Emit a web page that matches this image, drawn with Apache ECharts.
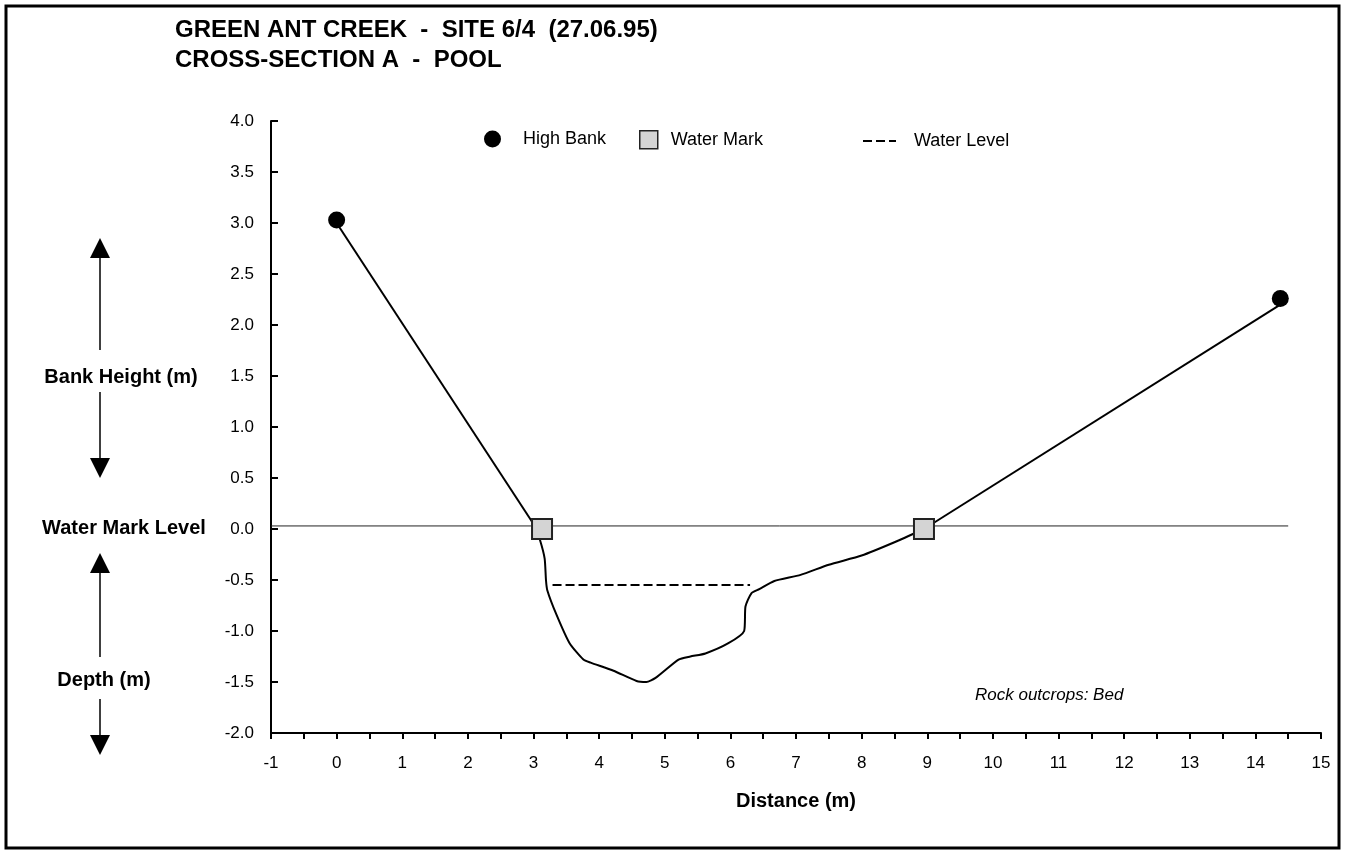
<!DOCTYPE html>
<html>
<head>
<meta charset="utf-8">
<script src="https://cdn.jsdelivr.net/npm/echarts@6/dist/echarts.min.js"></script>
<style>
html,body{margin:0;padding:0;background:#fff;}
#chart{width:1348px;height:856px;}
</style>
</head>
<body>
<div id="chart"></div>
<script>
// ---- data ----
const titleLines = ['GREEN ANT CREEK  -  SITE 6/4  (27.06.95)', 'CROSS-SECTION A  -  POOL'];
const highBank = [[0, 3.03], [14.38, 2.26]];
const waterMark = [[3.13, 0], [8.95, 0]];
const waterLevel = [[3.29, -0.55], [6.30, -0.55]];
const markLevelLine = [[-1, 0.03], [14.5, 0.03]];
const leftBank = [[0, 3.0], [3.02, 0.03]];
const bed = [[3.02, 0.03], [3.10, -0.11], [3.17, -0.29], [3.19, -0.50], [3.21, -0.60], [3.35, -0.84],
  [3.55, -1.12], [3.76, -1.28], [3.87, -1.31], [4.22, -1.39], [4.57, -1.49], [4.72, -1.50],
  [4.86, -1.46], [5.21, -1.28], [5.39, -1.25], [5.62, -1.22], [5.97, -1.12], [6.21, -1.00],
  [6.23, -0.76], [6.32, -0.63], [6.44, -0.59], [6.67, -0.51], [7.07, -0.45], [7.5, -0.35],
  [8.0, -0.26], [8.5, -0.13], [8.95, 0]];
const rightBank = [[8.95, 0], [14.38, 2.2]];
const noteText = 'Rock outcrops: Bed';
const sideLabels = ['Bank Height (m)', 'Water Mark Level', 'Depth (m)'];
const xName = 'Distance (m)';

const FONT = '"Liberation Sans", Arial, Helvetica, sans-serif';
const chart = echarts.init(document.getElementById('chart'));

function arrow(x, y1, y2, dir) {
  const els = [];
  const hw = 10, hh = 20;
  if (dir < 0) {
    els.push({type: 'polygon', shape: {points: [[x, y1], [x - hw, y1 + hh], [x + hw, y1 + hh]]}, style: {fill: '#000'}});
    els.push({type: 'line', shape: {x1: x, y1: y1 + hh, x2: x, y2: y2}, style: {stroke: '#000', lineWidth: 1.5}});
  } else {
    els.push({type: 'line', shape: {x1: x, y1: y1, x2: x, y2: y2 - hh}, style: {stroke: '#000', lineWidth: 1.5}});
    els.push({type: 'polygon', shape: {points: [[x, y2], [x - hw, y2 - hh], [x + hw, y2 - hh]]}, style: {fill: '#000'}});
  }
  return els;
}
function sideText(txt, cx, cy) {
  return {type: 'text', x: cx, y: cy, style: {text: txt, font: 'bold 20px ' + FONT, fill: '#000', align: 'center', verticalAlign: 'middle'}};
}

const graphics = [
  {type: 'rect', shape: {x: 6, y: 6, width: 1333, height: 842}, style: {fill: 'none', stroke: '#000', lineWidth: 3}, z: 100},
  ...arrow(100, 238, 350, -1),
  sideText(sideLabels[0], 121, 377),
  ...arrow(100, 392, 478, 1),
  sideText(sideLabels[1], 124, 528),
  ...arrow(100, 553, 657, -1),
  sideText(sideLabels[2], 104, 680),
  ...arrow(100, 699, 755, 1),
  {type: 'text', x: 975, y: 695, style: {text: noteText, font: 'italic 17px ' + FONT, fill: '#000', verticalAlign: 'middle'}}
];

const legendText = {fontFamily: FONT, fontSize: 18, color: '#000'};

const option = {
  animation: false,
  backgroundColor: '#fff',
  title: {
    text: titleLines.join('\n'),
    left: 175, top: 15, padding: 0,
    textStyle: {fontFamily: FONT, fontSize: 24, fontWeight: 'bold', color: '#000', lineHeight: 30}
  },
  legend: [
    {data: [{name: 'High Bank', icon: 'circle', itemStyle: {color: '#000', opacity: 1}}],
     left: 484, top: 130, padding: 0, itemWidth: 17, itemHeight: 17,
     textStyle: Object.assign({padding: [0, 0, 0, 17]}, legendText)},
    {data: [{name: 'Water Mark', icon: 'rect', itemStyle: {color: '#d4d4d4', borderColor: '#222', borderWidth: 1.5, opacity: 1}}],
     left: 639, top: 130, padding: 0, itemWidth: 18, itemHeight: 18,
     textStyle: Object.assign({padding: [0, 0, 0, 8]}, legendText)},
    {data: [{name: 'Water Level', itemStyle: {color: 'rgba(0,0,0,0)', borderWidth: 0, opacity: 0}}],
     left: 862, top: 132, padding: 0, itemWidth: 33, itemHeight: 14,
     textStyle: Object.assign({padding: [0, 0, 0, 13]}, legendText)}
  ],
  grid: {left: 271, right: 27, top: 121, bottom: 123},
  xAxis: {
    type: 'value', min: -1, max: 15, interval: 1,
    name: xName, nameLocation: 'middle', nameGap: 58,
    nameTextStyle: {fontFamily: FONT, fontSize: 20, fontWeight: 'bold', color: '#000'},
    axisLine: {onZero: false, lineStyle: {color: '#000', width: 2}},
    axisTick: {inside: false, length: 6, lineStyle: {color: '#000', width: 2}},
    minorTick: {show: true, splitNumber: 2, length: 6, lineStyle: {color: '#000', width: 2}},
    axisLabel: {fontFamily: FONT, fontSize: 17, color: '#000', margin: 22},
    splitLine: {show: false}
  },
  yAxis: {
    type: 'value', min: -2, max: 4, interval: 0.5,
    axisLine: {onZero: false, lineStyle: {color: '#000', width: 2}},
    axisTick: {inside: true, length: 7, lineStyle: {color: '#000', width: 2}},
    axisLabel: {fontFamily: FONT, fontSize: 17, color: '#000', margin: 17, formatter: v => v.toFixed(1)},
    splitLine: {show: false}
  },
  series: [
    {name: 'Water Mark Level', type: 'line', data: markLevelLine, symbol: 'none', silent: true,
     lineStyle: {color: '#222', width: 1}},
    {name: 'Left Bank', type: 'line', data: leftBank, symbol: 'none', lineStyle: {color: '#000', width: 2}},
    {name: 'Bed', type: 'line', data: bed, symbol: 'none', smooth: 0.2, lineStyle: {color: '#000', width: 2}},
    {name: 'Right Bank', type: 'line', data: rightBank, symbol: 'none', lineStyle: {color: '#000', width: 2}},
    {name: 'Water Level', type: 'line', data: waterLevel, symbol: 'none',
     lineStyle: {color: '#000', width: 2, type: [9, 4]}, itemStyle: {color: '#000'}},
    {name: 'High Bank', type: 'scatter', data: highBank, symbol: 'circle', symbolSize: 17,
     itemStyle: {color: '#000', opacity: 1}, z: 5},
    {name: 'Water Mark', type: 'scatter', data: waterMark, symbol: 'rect', symbolSize: 20,
     itemStyle: {color: '#d4d4d4', borderColor: '#222', borderWidth: 2, opacity: 1}, z: 5}
  ],
  graphic: graphics
};
chart.setOption(option);
</script>
</body>
</html>
